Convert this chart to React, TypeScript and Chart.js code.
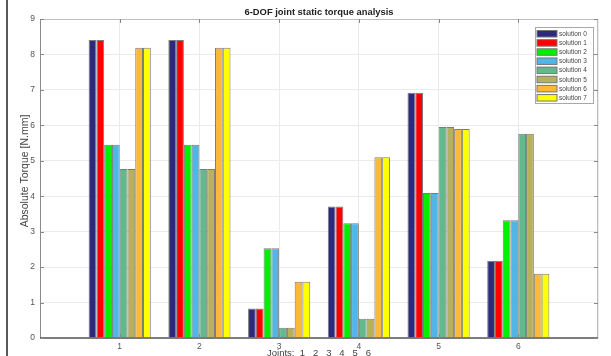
import React, { useEffect, useRef } from "react";
import { Chart, registerables } from "chart.js";

Chart.register(...registerables);

const joints = [1, 2, 3, 4, 5, 6];
const seriesNames = [
  "solution 0",
  "solution 1",
  "solution 2",
  "solution 3",
  "solution 4",
  "solution 5",
  "solution 6",
  "solution 7",
];
const solution0 = [8.41, 8.41, 0.83, 3.71, 6.92, 2.18];
const solution1 = [8.41, 8.41, 0.83, 3.71, 6.92, 2.18];
const solution2 = [5.45, 5.45, 2.53, 3.24, 4.09, 3.32];
const solution3 = [5.45, 5.45, 2.53, 3.24, 4.09, 3.32];
const solution4 = [4.77, 4.77, 0.29, 0.54, 5.95, 5.76];
const solution5 = [4.77, 4.77, 0.29, 0.54, 5.95, 5.76];
const solution6 = [8.19, 8.19, 1.59, 5.10, 5.9, 1.81];
const solution7 = [8.19, 8.19, 1.59, 5.10, 5.9, 1.81];
const seriesValues = [solution0, solution1, solution2, solution3, solution4, solution5, solution6, solution7];
const seriesColors = ["#2d2a7e", "#ff0000", "#00f000", "#4fb6e6", "#62b98a", "#b9b05e", "#fcb938", "#ffff00"];
const yTicks = [0, 1, 2, 3, 4, 5, 6, 7, 8, 9];

const title = "6-DOF joint static torque analysis";
const yTitle = "Absolute Torque [N.mm]";
const xTitle = "Joints:  1   2   3   4   5   6";

const FONT = "'Liberation Sans', 'DejaVu Sans', sans-serif";

const decorPlugin = {
  id: "decor",
  afterDraw(chart: any) {
    const ctx = chart.ctx;
    const { left, right, top, bottom } = chart.chartArea;
    const xs = chart.scales.x;
    const ys = chart.scales.y;
    ctx.save();
    // outer frame line on the left
    ctx.strokeStyle = "#222";
    ctx.lineWidth = 1.5;
    ctx.beginPath();
    ctx.moveTo(7, 0);
    ctx.lineTo(7, 356);
    ctx.stroke();

    // plot border
    ctx.lineWidth = 1;
    ctx.strokeStyle = "#bdbdbd";
    ctx.beginPath();
    ctx.moveTo(left, top + 0.5);
    ctx.lineTo(right, top + 0.5);
    ctx.moveTo(right - 0.5, top);
    ctx.lineTo(right - 0.5, bottom);
    ctx.stroke();
    ctx.strokeStyle = "#8a8a8a";
    ctx.beginPath();
    ctx.moveTo(left + 0.5, top);
    ctx.lineTo(left + 0.5, bottom);
    ctx.stroke();
    ctx.strokeStyle = "#555";
    ctx.lineWidth = 1.5;
    ctx.beginPath();
    ctx.moveTo(left, bottom);
    ctx.lineTo(right, bottom);
    ctx.stroke();

    // inner ticks
    ctx.lineWidth = 1;
    ctx.strokeStyle = "#888";
    ctx.beginPath();
    yTicks.forEach((v) => {
      const y = Math.round(ys.getPixelForValue(v)) + 0.5;
      ctx.moveTo(left, y);
      ctx.lineTo(left + 4, y);
      ctx.moveTo(right, y);
      ctx.lineTo(right - 4, y);
    });
    joints.forEach((j) => {
      const x = Math.round(xs.getPixelForValue(j)) + 0.5;
      ctx.moveTo(x, bottom);
      ctx.lineTo(x, bottom - 4);
      ctx.moveTo(x, top);
      ctx.lineTo(x, top + 4);
    });
    ctx.stroke();

    // title
    ctx.fillStyle = "#222";
    ctx.font = `bold 9.4px ${FONT}`;
    ctx.textAlign = "center";
    ctx.textBaseline = "middle";
    ctx.fillText(title, (left + right) / 2, 12);

    // x title
    ctx.fillStyle = "#444";
    ctx.font = `9.5px ${FONT}`;
    ctx.textBaseline = "top";
    ctx.fillText(xTitle, (left + right) / 2, 349);

    // y title
    ctx.save();
    ctx.translate(25, 171);
    ctx.rotate(-Math.PI / 2);
    ctx.textBaseline = "middle";
    ctx.font = `10.5px ${FONT}`;
    ctx.fillText(yTitle, 0, 0);
    ctx.restore();

    // legend
    const lx = 535, ly = 27, lw = 58, lh = 76;
    ctx.fillStyle = "#fff";
    ctx.fillRect(lx, ly, lw, lh);
    ctx.strokeStyle = "#a8a8a8";
    ctx.strokeRect(lx + 0.5, ly + 0.5, lw, lh);
    ctx.font = `6.5px ${FONT}`;
    ctx.textAlign = "left";
    ctx.textBaseline = "middle";
    seriesNames.forEach((name, i) => {
      const cy = 33.5 + i * 9.15;
      ctx.fillStyle = seriesColors[i];
      ctx.fillRect(537, cy - 3, 20, 6.5);
      ctx.strokeStyle = "#777";
      ctx.strokeRect(537, cy - 3, 20, 6.5);
      ctx.fillStyle = "#444";
      ctx.fillText(name, 559, cy + 0.5);
    });
    ctx.restore();
  },
};

export default function App() {
  const ref = useRef<HTMLCanvasElement | null>(null);
  useEffect(() => {
    if (!ref.current) return;
    const chart = new Chart(ref.current, {
      type: "bar",
      data: {
        datasets: seriesValues.map((vals, i) => ({
          label: seriesNames[i],
          data: vals.map((v, k) => ({ x: joints[k], y: v })),
          backgroundColor: seriesColors[i],
          borderColor: "rgba(90,90,90,0.8)",
          borderWidth: 1,
          categoryPercentage: 0.78,
          barPercentage: 1,
        })),
      },
      options: {
        animation: false,
        responsive: false,
        maintainAspectRatio: false,
        layout: { padding: { top: 19, right: 13, left: 0, bottom: 0 } },
        plugins: {
          legend: { display: false },
          title: { display: false },
          tooltip: { enabled: false },
        },
        scales: {
          x: {
            type: "linear",
            min: 0,
            max: 7,
            offset: false,
            afterFit: (s: any) => {
              s.height = 18;
            },
            afterBuildTicks: (s: any) => {
              s.ticks = [0, ...joints, 7].map((v) => ({ value: v }));
            },
            ticks: {
              autoSkip: false,
              padding: 4,
              font: { size: 8.5, family: FONT },
              color: "#555",
              callback: (v: any) => (v >= 1 && v <= 6 ? String(v) : ""),
            },
            grid: { color: "#ebebeb", drawTicks: false, offset: false },
            border: { display: false },
          },
          y: {
            min: 0,
            max: 9,
            afterFit: (s: any) => {
              s.width = 40;
            },
            afterBuildTicks: (s: any) => {
              s.ticks = yTicks.map((v) => ({ value: v }));
            },
            ticks: {
              padding: 5,
              font: { size: 8.5, family: FONT },
              color: "#555",
            },
            grid: { color: "#ebebeb", drawTicks: false },
            border: { display: false },
          },
        },
      },
      plugins: [decorPlugin],
    });
    return () => chart.destroy();
  }, []);
  return (
    <div style={{ position: "fixed", left: 0, top: 0, width: 611, height: 356, background: "#fff" }}>
      <canvas ref={ref} width={611} height={356} style={{ display: "block", width: 611, height: 356 }} />
    </div>
  );
}
